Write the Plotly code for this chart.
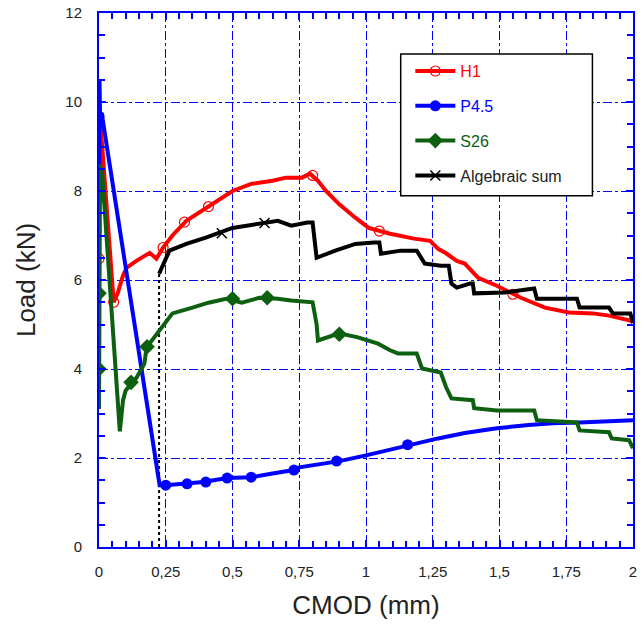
import plotly.graph_objects as go

# ---------------- data ----------------
H1_X = [0, 0.004, 0.012, 0.03, 0.055, 0.07, 0.09, 0.104, 0.14, 0.19, 0.215, 0.24, 0.275, 0.327,
        0.387, 0.44, 0.5, 0.57, 0.65, 0.7, 0.76, 0.79, 0.82, 0.85, 0.9, 0.96, 1.01, 1.09, 1.18,
        1.24, 1.27, 1.30, 1.34, 1.37, 1.42, 1.49, 1.58, 1.67, 1.76, 1.85, 1.91, 1.99, 2.0]
H1_Y = [6.48, 9.6, 9.0, 7.4, 5.5, 5.7, 6.1, 6.28, 6.43, 6.61, 6.48, 6.73, 7.0, 7.33,
        7.56, 7.78, 8.0, 8.16, 8.23, 8.3, 8.3, 8.39, 8.23, 8.0, 7.7, 7.4, 7.17, 7.04, 6.93,
        6.88, 6.7, 6.6, 6.43, 6.37, 6.05, 5.87, 5.6, 5.38, 5.27, 5.25, 5.2, 5.09, 5.05]
H1_MX = [0, 0.055, 0.24, 0.32, 0.41, 0.80, 1.05, 1.55]
H1_MY = [6.48, 5.5, 6.73, 7.3, 7.65, 8.35, 7.1, 5.68]

P45_X = [0, 0.002, 0.004, 0.01, 0.227, 0.25, 0.33, 0.39, 0.48, 0.57, 0.65, 0.73, 0.75, 0.85,
         0.9, 1.0, 1.156, 1.27, 1.37, 1.49, 1.61, 1.70, 1.80, 2.0]
P45_Y = [3.1, 10.5, 9.68, 9.75, 1.39, 1.39, 1.42, 1.46, 1.55, 1.57, 1.65, 1.73, 1.79, 1.87,
         1.93, 2.06, 2.29, 2.44, 2.56, 2.67, 2.74, 2.78, 2.8, 2.85]
P45_MX = [0, 0.25, 0.33, 0.40, 0.48, 0.57, 0.73, 0.89, 1.156]
P45_MY = [9.68, 1.39, 1.42, 1.46, 1.55, 1.57, 1.73, 1.93, 2.3]

S26_X = [0, 0.003, 0.012, 0.078, 0.09, 0.10, 0.14, 0.17, 0.178, 0.227, 0.275, 0.35, 0.41,
         0.476, 0.535, 0.6, 0.67, 0.72, 0.78, 0.80, 0.815, 0.82, 0.9, 0.97, 1.045, 1.09, 1.12,
         1.19, 1.21, 1.28, 1.30, 1.32, 1.40, 1.405, 1.49, 1.63, 1.64, 1.79, 1.80, 1.91, 1.92,
         1.985, 2.0]
S26_Y = [3.1, 8.6, 8.4, 2.6, 3.3, 3.52, 3.8, 4.12, 4.48, 4.87, 5.25, 5.38, 5.49,
         5.58, 5.49, 5.6, 5.58, 5.54, 5.5, 5.5, 5.0, 4.64, 4.8, 4.71, 4.57, 4.42, 4.35,
         4.35, 4.01, 3.92, 3.59, 3.34, 3.3, 3.12, 3.07, 3.07, 2.85, 2.8, 2.62, 2.58, 2.44,
         2.4, 2.22]
S26_MX = [0, 0, 0, 0.12, 0.18, 0.50, 0.63, 0.90]
S26_MY = [7.85, 5.7, 4.0, 3.7, 4.5, 5.58, 5.6, 4.78]

SUM_X = [0.225, 0.264, 0.327, 0.40, 0.50, 0.6, 0.67, 0.72, 0.78, 0.80, 0.815, 0.885, 0.96,
         1.03, 1.05, 1.056, 1.13, 1.19, 1.22, 1.28, 1.31, 1.32, 1.34, 1.39, 1.40, 1.405, 1.52,
         1.63, 1.64, 1.79, 1.80, 1.91, 1.925, 1.99, 2.0]
SUM_Y = [6.14, 6.66, 6.81, 6.95, 7.17, 7.26, 7.33, 7.22, 7.29, 7.29, 6.5, 6.66, 6.81,
         6.84, 6.84, 6.59, 6.66, 6.66, 6.37, 6.32, 6.32, 5.92, 5.83, 5.92, 5.92, 5.7, 5.72,
         5.81, 5.58, 5.58, 5.38, 5.38, 5.25, 5.25, 5.04]
SUM_MX = [0.46, 0.62]
SUM_MY = [7.05, 7.28]

X_TICKS = [0, 0.25, 0.5, 0.75, 1, 1.25, 1.5, 1.75, 2]
X_LABELS = ["0", "0,25", "0,5", "0,75", "1", "1,25", "1,5", "1,75", "2"]
Y_TICKS = [0, 2, 4, 6, 8, 10, 12]

RED = "#ff0000"
BLUE = "#0000ff"
GREEN = "#0d6010"
BLACK = "#000000"

series = [
    ("H1", H1_X, H1_Y, H1_MX, H1_MY, RED,
     dict(symbol="circle-open", size=10, color=RED, line=dict(width=1.2, color=RED))),
    ("P4.5", P45_X, P45_Y, P45_MX, P45_MY, BLUE,
     dict(symbol="circle", size=11, color=BLUE)),
    ("S26", S26_X, S26_Y, S26_MX, S26_MY, GREEN,
     dict(symbol="diamond", size=12, color=GREEN)),
    ("Algebraic sum", SUM_X, SUM_Y, SUM_MX, SUM_MY, BLACK,
     dict(symbol="x-thin-open", size=10, color=BLACK, line=dict(width=1.5, color=BLACK))),
]

fig = go.Figure()

# dotted connector at the start of the algebraic sum
fig.add_trace(go.Scatter(x=[SUM_X[0], SUM_X[0]], y=[0, SUM_Y[0]], mode="lines",
                         line=dict(color=BLACK, width=2, dash="dot"), showlegend=False,
                         hoverinfo="skip"))

for i, (name, xs, ys, mx, my, col, mk) in enumerate(series):
    fig.add_trace(go.Scatter(x=xs, y=ys, mode="lines", line=dict(color=col, width=4),
                             showlegend=False))
    fig.add_trace(go.Scatter(x=mx, y=my, mode="markers", marker=mk, showlegend=False))
    txtcol = col if col != BLACK else "#222222"
    fig.add_trace(go.Scatter(x=[None], y=[None], mode="lines+markers",
                             line=dict(color=col, width=4), marker=mk,
                             name=f'<span style="color:{txtcol}">{name}</span>',
                             legendgroup=f"g{i}", showlegend=True))

axis_common = dict(
    showline=True, linecolor=BLUE, linewidth=2, mirror="allticks",
    showgrid=True, gridcolor=BLUE, gridwidth=1.4, griddash="dashdot",
    zeroline=False, ticks="inside", ticklen=7, tickwidth=1.5, tickcolor=BLUE,
    tickfont=dict(family="Liberation Sans, Arial", size=15, color="#222222"),
)

fig.update_layout(
    width=641, height=626,
    margin=dict(l=99, r=4, t=12, b=79),
    paper_bgcolor="white", plot_bgcolor="white",
    font=dict(family="Liberation Sans, Arial", color="#222222"),
    xaxis=dict(range=[0, 2], tickmode="array", tickvals=X_TICKS, ticktext=X_LABELS,
               minor=dict(tickmode="linear", tick0=0, dtick=0.05, ticks="inside", ticklen=6,
                          tickwidth=1.5, tickcolor=BLUE, showgrid=False),
               ticklabelstandoff=10,
               title=dict(text="CMOD (mm)", font=dict(size=26, color="#222222"), standoff=17),
               **axis_common),
    yaxis=dict(range=[0, 12], tickmode="linear", tick0=0, dtick=2,
               minor=dict(tickmode="linear", tick0=0, dtick=0.5, ticks="inside", ticklen=6,
                          tickwidth=1.5, tickcolor=BLUE, showgrid=False),
               ticklabelstandoff=12,
               title=dict(text="Load (kN)", font=dict(size=26, color="#222222"), standoff=22),
               **axis_common),
    legend=dict(x=0.583, y=0.923, xanchor="left", yanchor="top",
                bgcolor="rgba(0,0,0,0)", borderwidth=0,
                font=dict(family="Liberation Sans, Arial", size=16),
                tracegroupgap=11, itemwidth=40),
    shapes=[dict(type="rect", xref="paper", yref="paper", x0=0.565, x1=0.924,
                 y0=0.658, y1=0.923, fillcolor="white", layer="above",
                 line=dict(color=BLACK, width=1.5))],
)

fig.write_html("out.html")
